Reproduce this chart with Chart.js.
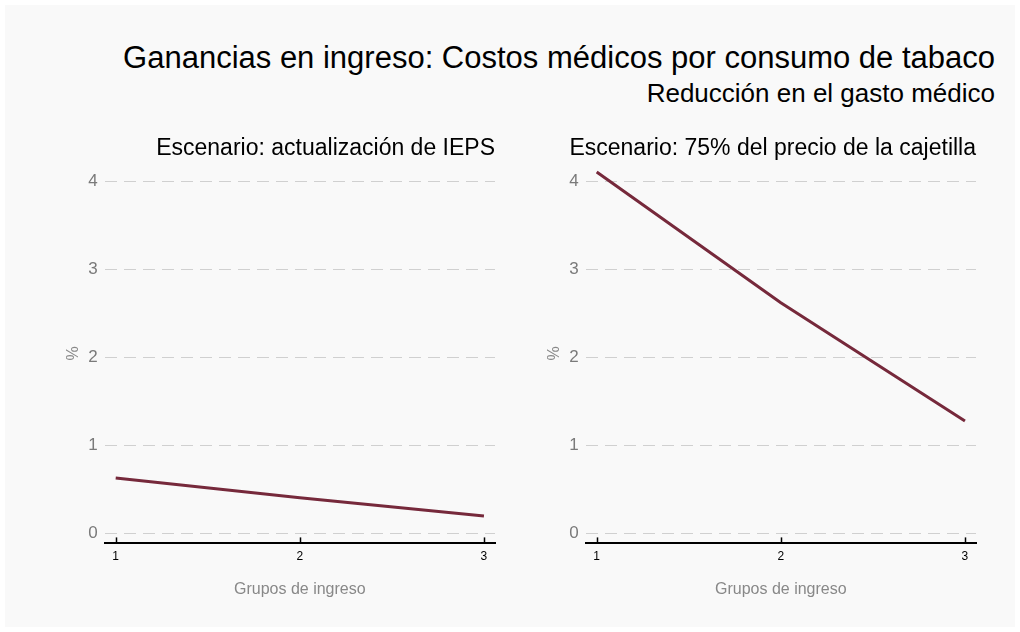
<!DOCTYPE html>
<html>
<head>
<meta charset="utf-8">
<script src="https://cdn.jsdelivr.net/npm/chart.js@4.4.0/dist/chart.umd.min.js"></script>
<style>
    html, body { margin: 0; padding: 0; background: #fff; }
    #frame {
        position: absolute; left: 5px; top: 5px; width: 1010px; height: 622px;
        background: #f9f9f9; font-family: "Liberation Sans", Arial, sans-serif;
    }
    .title { position: absolute; right: 20px; color: #000; white-space: nowrap; line-height: 1.15; }
    #main-title { top: 35px; font-size: 31px; }
    #sub-title { top: 74px; font-size: 26px; }
    .panel { position: absolute; top: 105px; width: 457px; height: 499px; }
</style>
</head>
<body>
<div id="frame">
    <div class="title" id="main-title">Ganancias en ingreso: Costos médicos por consumo de tabaco</div>
    <div class="title" id="sub-title">Reducción en el gasto médico</div>
    <div class="panel" style="left:35px"><canvas id="chartIeps"></canvas></div>
    <div class="panel" style="left:516px"><canvas id="chartCajetilla"></canvas></div>
</div>
<script>
// Datos de los grupos de ingreso
const groups = [1, 2, 3];
const iepsValues = [0.63, 0.405, 0.197];
const cajetillaValues = [4.105, 2.62, 1.276];
const yTicks = [0, 1, 2, 3, 4];
const panelTitles = ['Escenario: actualización de IEPS', 'Escenario: 75% del precio de la cajetilla'];

const lineColor = '#76293b';
const fontFamily = '"Liberation Sans", Arial, sans-serif';

// marcas del eje x hacia arriba, como en el original
const upTicks = {
    id: 'upTicks',
    afterDatasetsDraw(chart) {
        const ctx = chart.ctx;
        const xScale = chart.scales.x;
        const bottom = chart.chartArea.bottom;
        ctx.save();
        ctx.strokeStyle = '#000';
        ctx.lineWidth = 1.5;
        groups.forEach(g => {
            const px = Math.round(xScale.getPixelForValue(g)) + 0.5;
            ctx.beginPath();
            ctx.moveTo(px, bottom - 6);
            ctx.lineTo(px, bottom);
            ctx.stroke();
        });
        ctx.restore();
    }
};

function makeChart(canvasId, title, values) {
    const ctx = document.getElementById(canvasId).getContext('2d');
    return new Chart(ctx, {
        type: 'line',
        data: {
            datasets: [{
                data: groups.map((g, i) => ({ x: g, y: values[i] })),
                borderColor: lineColor,
                borderWidth: 3,
                pointRadius: 0,
                tension: 0
            }]
        },
        options: {
            responsive: true,
            maintainAspectRatio: false,
            animation: false,
            layout: { padding: { left: 20, right: 2, bottom: 6 } },
            plugins: {
                legend: { display: false },
                tooltip: { enabled: false },
                title: {
                    display: true,
                    text: title,
                    align: 'end',
                    color: '#000',
                    font: { family: fontFamily, size: 23, weight: 'normal' },
                    padding: { top: 25, bottom: 1 }
                }
            },
            scales: {
                x: {
                    type: 'linear',
                    min: 0.94,
                    max: 3.06,
                    afterBuildTicks: scale => { scale.ticks = groups.map(v => ({ value: v })); },
                    grid: { display: false, drawTicks: false },
                    border: { display: true, color: '#000', width: 2 },
                    ticks: {
                        color: '#000',
                        padding: 6,
                        maxRotation: 0,
                        font: { family: fontFamily, size: 12 }
                    },
                    title: {
                        display: true,
                        text: 'Grupos de ingreso',
                        color: '#888',
                        font: { family: fontFamily, size: 16 },
                        padding: { top: 10, bottom: 4 }
                    }
                },
                y: {
                    min: -0.114,
                    max: 4.2,
                    afterBuildTicks: scale => { scale.ticks = yTicks.map(v => ({ value: v })); },
                    grid: {
                        color: '#d0d0d0',
                        lineWidth: 1,
                        drawTicks: false
                    },
                    border: { display: false, dash: [12, 7] },
                    ticks: {
                        color: '#7a7a7a',
                        padding: 7,
                        font: { family: fontFamily, size: 17 }
                    },
                    title: {
                        display: true,
                        text: '%',
                        color: '#888',
                        font: { family: fontFamily, size: 16 },
                        padding: { top: 4, bottom: -2 }
                    }
                }
            }
        },
        plugins: [upTicks]
    });
}

document.addEventListener('DOMContentLoaded', function() {
    makeChart('chartIeps', panelTitles[0], iepsValues);
    makeChart('chartCajetilla', panelTitles[1], cajetillaValues);
});
</script>
</body>
</html>
